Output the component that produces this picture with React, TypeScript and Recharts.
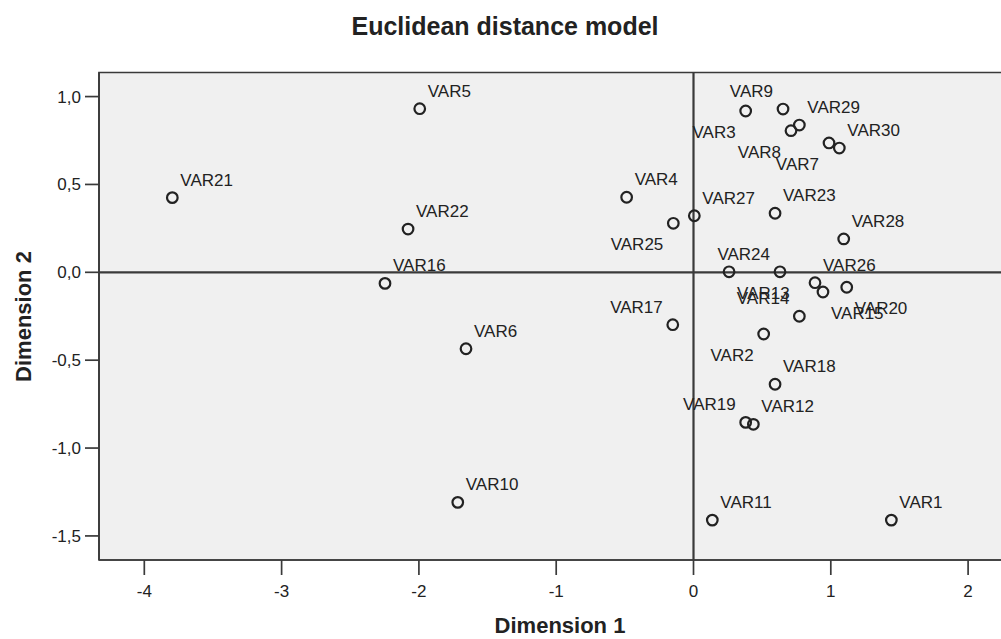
import React from 'react';
import {
  ScatterChart,
  Scatter,
  XAxis,
  YAxis,
  ReferenceLine,
  ReferenceArea,
} from 'recharts';

// stimulus names and their coordinates on the two dimensions
const names = [
  'VAR1', 'VAR2', 'VAR3', 'VAR4', 'VAR5', 'VAR6', 'VAR7', 'VAR8', 'VAR9', 'VAR10',
  'VAR11', 'VAR12', 'VAR13', 'VAR14', 'VAR15', 'VAR16', 'VAR17', 'VAR18', 'VAR19', 'VAR20',
  'VAR21', 'VAR22', 'VAR23', 'VAR24', 'VAR25', 'VAR26', 'VAR27', 'VAR28', 'VAR29', 'VAR30',
];
const dim1 = [
  1.441, 0.511, 0.38, -0.487, -1.994, -1.657, 0.987, 0.71, 0.652, -1.717,
  0.137, 0.436, 0.259, 0.771, 0.943, -2.247, -0.151, 0.594, 0.38, 1.116,
  -3.796, -2.079, 0.594, 0.63, -0.147, 0.885, 0.006, 1.094, 0.771, 1.062,
];
const dim2 = [
  -1.41, -0.351, 0.918, 0.427, 0.931, -0.435, 0.736, 0.806, 0.929, -1.309,
  -1.41, -0.865, 0.003, -0.25, -0.112, -0.063, -0.298, -0.637, -0.854, -0.085,
  0.425, 0.246, 0.336, 0.003, 0.279, -0.059, 0.322, 0.19, 0.838, 0.707,
];
const xTicks = [-4, -3, -2, -1, 0, 1, 2];
const yTicks = [-1.5, -1, -0.5, 0, 0.5, 1];

const points = names.map((name, i) => ({ name, x: dim1[i], y: dim2[i] }));

// where each point label sits (upper-right unless listed)
const labelSide: Record<string, string> = {
  VAR9: 'ul', VAR24: 'ul', VAR14: 'ul', VAR17: 'ul', VAR19: 'ul',
  VAR3: 'll', VAR8: 'll', VAR7: 'll', VAR2: 'll', VAR25: 'll',
  VAR13: 'lr', VAR15: 'lr', VAR20: 'lr',
};

const FONT = '"Liberation Sans", Arial, sans-serif';
const INK = '#222';
const LINE = '#3a3a3a';

const Marker = (props: any) => {
  const { cx, cy, payload } = props;
  const side = labelSide[payload.name] || 'ur';
  const right = side === 'ur' || side === 'lr';
  const below = side === 'll' || side === 'lr';
  return (
    <g>
      <circle cx={cx} cy={cy} r={5.3} fill="none" stroke={INK} strokeWidth={2.2} />
      <text
        x={right ? cx + 8 : cx - 10}
        y={below ? cy + 27 : cy - 12}
        textAnchor={right ? 'start' : 'end'}
        fontSize={17}
        fontFamily={FONT}
        fill={INK}
      >
        {payload.name}
      </text>
    </g>
  );
};

const fmtY = (v: number) => v.toFixed(1).replace('.', ',');

export default function App() {
  return (
    <div
      style={{
        position: 'fixed',
        left: 0,
        top: 0,
        width: 1001,
        height: 639,
        overflow: 'hidden',
        background: '#fff',
      }}
    >
      <ScatterChart
        width={1021}
        height={639}
        margin={{ top: 72.5, right: 1, bottom: 0, left: 0 }}
      >
        <ReferenceArea
          x1={-4.33}
          x2={2.378}
          y1={-1.637}
          y2={1.137}
          fill="#f0f0f0"
          fillOpacity={1}
          stroke={LINE}
          strokeWidth={1.7}
        />
        <XAxis
          type="number"
          dataKey="x"
          domain={[-4.33, 2.378]}
          ticks={xTicks}
          height={79}
          tickSize={15}
          tickMargin={10}
          axisLine={{ stroke: LINE, strokeWidth: 1.7 }}
          tickLine={{ stroke: LINE, strokeWidth: 1.7 }}
          tick={{ fontSize: 17, fontFamily: FONT, fill: INK }}
        />
        <YAxis
          type="number"
          dataKey="y"
          domain={[-1.637, 1.137]}
          ticks={yTicks}
          width={99}
          tickSize={14}
          tickMargin={4}
          tickFormatter={fmtY}
          axisLine={{ stroke: LINE, strokeWidth: 1.7 }}
          tickLine={{ stroke: LINE, strokeWidth: 1.7 }}
          tick={{ fontSize: 17, fontFamily: FONT, fill: INK }}
        />
        <ReferenceLine x={0} stroke={LINE} strokeWidth={2.2} />
        <ReferenceLine y={0} stroke={LINE} strokeWidth={2.2} />
        <Scatter data={points} shape={Marker} isAnimationActive={false} />
      </ScatterChart>
      <svg
        width={1001}
        height={639}
        style={{ position: 'absolute', left: 0, top: 0, pointerEvents: 'none' }}
      >
        <text x={505} y={35} textAnchor="middle" fontSize={25} fontWeight="bold" fontFamily={FONT} fill={INK}>
          Euclidean distance model
        </text>
        <text x={560} y={633} textAnchor="middle" fontSize={22} fontWeight="bold" fontFamily={FONT} fill={INK}>
          Dimension 1
        </text>
        <text
          x={31}
          y={316.5}
          textAnchor="middle"
          fontSize={22}
          fontWeight="bold"
          fontFamily={FONT}
          fill={INK}
          transform="rotate(-90 31 316.5)"
        >
          Dimension 2
        </text>
      </svg>
    </div>
  );
}
